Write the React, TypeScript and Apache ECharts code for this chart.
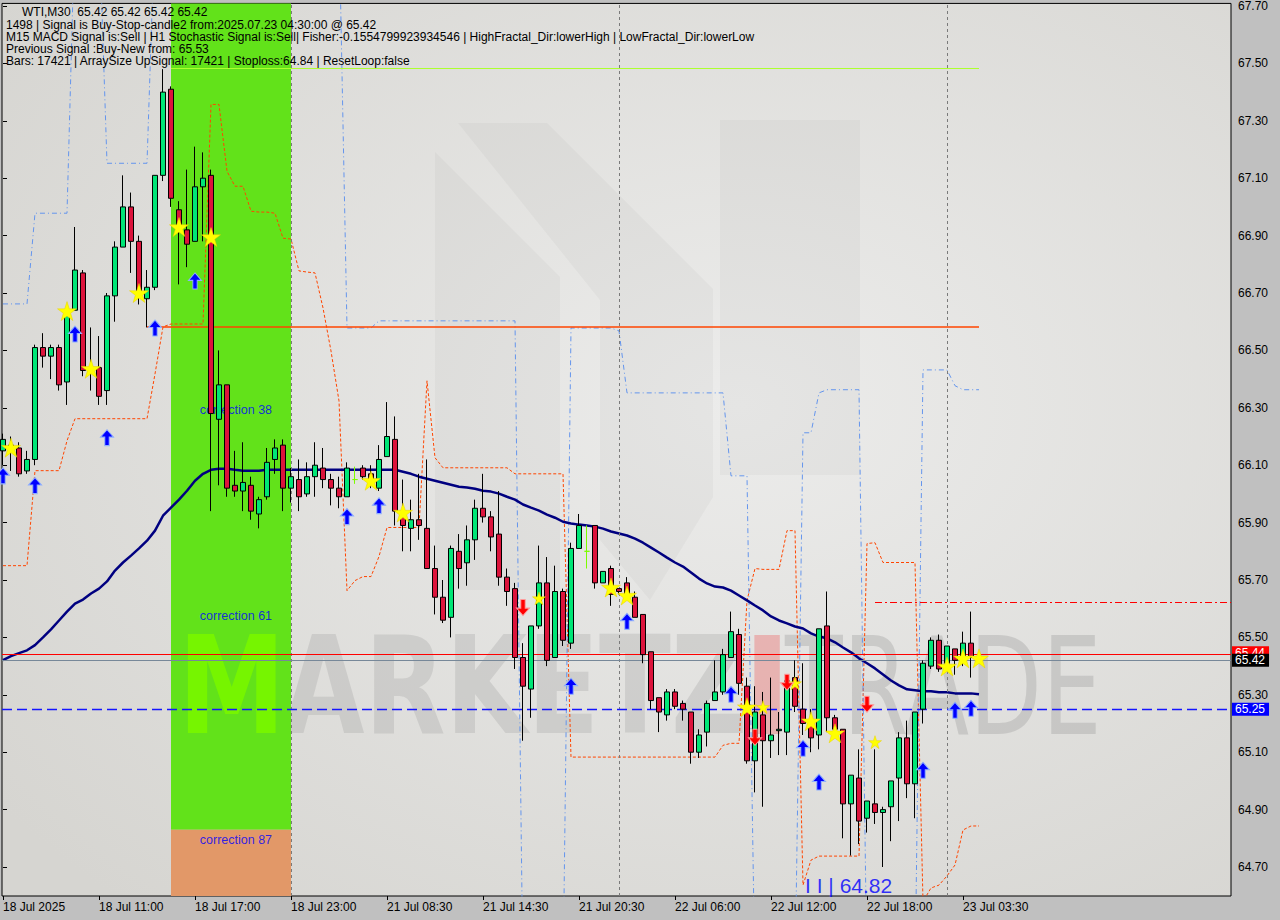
import React, { useEffect, useRef } from "react";
import * as echarts from "echarts";

const FONT = '"Liberation Sans", Arial, sans-serif';

const Y_MIN = 64.599;
const Y_MAX = 67.709;
const X_MIN = -0.125;
const X_MAX = 153.5;

// ---- candles (bar index = position) ----
const opens = [
  66.15, 66.17, 66.16, 66.08, 66.12, 66.51, 66.48, 66.51, 66.39, 66.64,
  66.77, 66.44, 66.44, 66.36, 66.69, 66.86, 67.0, 66.88, 66.68, 66.72,
  67.11, 67.41, 66.99, 66.92, 66.88, 67.07, 67.11, 66.26, 66.38, 66.03,
  66.01, 66.03, 65.93, 65.99, 66.12, 66.17, 66.02, 66.05, 66.0, 66.06,
  66.09, 66.05, 66.02, 65.99, 66.05, 66.09, 66.07, 66.02, 66.13, 66.19,
  65.92, 65.88, 65.91, 65.88, 65.74, 65.64, 65.57, 65.8, 65.76, 65.84,
  65.95, 65.92, 65.86, 65.71, 65.67, 65.43, 65.32, 65.54, 65.69, 65.43,
  65.66, 65.48, 65.81, 65.8, 65.89, 65.69, 65.74, 65.67, 65.69, 65.64,
  65.58, 65.45, 65.29, 65.23, 65.31, 65.27, 65.24, 65.1, 65.17, 65.28,
  65.31, 65.43, 65.51, 65.33, 65.07, 65.23, 65.14, 65.175, 65.17, 65.36,
  65.25, 65.21, 65.16, 65.54, 65.22, 65.18, 64.92, 65.01, 64.87, 64.92,
  64.89, 64.91, 65.01, 65.15, 64.99, 65.25, 65.4, 65.49, 65.41, 65.46,
  65.42, 65.48, 65.42,
];
const closes = [
  66.19, 66.16, 66.07, 66.12, 66.51, 66.48, 66.51, 66.38, 66.64, 66.78,
  66.43, 66.43, 66.34, 66.69, 66.86, 67.0, 66.88, 66.7, 66.72, 67.11,
  67.4, 67.03, 66.92, 66.87, 67.07, 67.1, 66.28, 66.38, 66.02, 66.01,
  66.04, 65.94, 65.98, 66.11, 66.16, 66.02, 66.06, 65.99, 66.06, 66.1,
  66.05, 66.02, 65.99, 66.09, 66.05, 66.06, 66.05, 66.12, 66.2, 65.94,
  65.89, 65.91, 65.89, 65.74, 65.64, 65.56, 65.81, 65.74, 65.84, 65.95,
  65.92, 65.85, 65.71, 65.66, 65.43, 65.33, 65.54, 65.69, 65.42, 65.66,
  65.49, 65.81, 65.89, 65.8, 65.69, 65.73, 65.65, 65.66, 65.64, 65.57,
  65.44, 65.28, 65.24, 65.31, 65.26, 65.25, 65.1, 65.16, 65.27, 65.31,
  65.44, 65.52, 65.34, 65.07, 65.24, 65.14, 65.16, 65.18, 65.35, 65.26,
  65.2, 65.15, 65.53, 65.22, 65.18, 64.92, 65.02, 64.86, 64.93, 64.89,
  64.9, 65.0, 65.15, 64.99, 65.24, 65.41, 65.49, 65.39, 65.47, 65.42,
  65.48, 65.43, 65.42,
];
const lows = [
  66.1, 66.08, 66.06, 66.07, 66.1, 66.44, 66.4, 66.36, 66.31, 66.64,
  66.41, 66.36, 66.31, 66.31, 66.6, 66.86, 66.77, 66.66, 66.58, 66.71,
  67.09, 67.0, 66.73, 66.79, 66.88, 66.88, 65.94, 66.03, 65.99, 65.99,
  65.94, 65.91, 65.88, 65.98, 66.07, 65.94, 65.97, 65.94, 65.99, 65.99,
  66.02, 65.96, 65.95, 65.99, 66.035, 66.05, 66.02, 66.01, 66.13, 65.89,
  65.8, 65.8, 65.84, 65.74, 65.58, 65.55, 65.5, 65.67, 65.68, 65.77,
  65.9, 65.8, 65.68, 65.61, 65.39, 65.14, 65.22, 65.53, 65.4, 65.43,
  65.47, 65.46, 65.81, 65.74, 65.67, 65.69, 65.61, 65.65, 65.64, 65.57,
  65.41, 65.25, 65.17, 65.21, 65.25, 65.21, 65.06, 65.08, 65.12, 65.28,
  65.3, 65.43, 65.3, 65.06, 64.96, 64.91, 65.08, 65.09, 65.09, 65.24,
  65.16, 65.1, 65.11, 65.17, 65.15, 64.8, 64.74, 64.78, 64.82, 64.85,
  64.7, 64.79, 64.86, 64.94, 64.87, 65.2, 65.39, 65.38, 65.41, 65.37,
  65.4, 65.36, 65.42,
];
const highs = [
  66.21, 66.2, 66.18, 66.15, 66.52, 66.56, 66.52, 66.52, 66.65, 66.93,
  66.78, 66.58, 66.55, 66.7, 66.88, 67.11, 67.05, 66.9, 66.78, 67.11,
  67.48, 67.42, 67.02, 67.13, 67.21, 67.19, 67.13, 66.5, 66.38, 66.15,
  66.18, 66.06, 65.99, 66.16, 66.19, 66.19, 66.09, 66.12, 66.11, 66.18,
  66.16, 66.07, 66.06, 66.11, 66.095, 66.1, 66.1, 66.17, 66.32, 66.27,
  66.05, 65.98, 66.07, 66.12, 65.82, 65.7, 65.82, 65.86, 65.89, 65.98,
  66.07, 65.94, 66.01, 65.74, 65.69, 65.48, 65.54, 65.82, 65.78, 65.75,
  65.67, 65.83, 65.93, 65.89, 65.89, 65.73, 65.75, 65.67, 65.71, 65.66,
  65.58, 65.45, 65.29, 65.32, 65.32, 65.28, 65.24, 65.18, 65.28, 65.42,
  65.46, 65.59, 65.53, 65.36, 65.33, 65.31, 65.36, 65.24, 65.36, 65.42,
  65.41, 65.25, 65.53, 65.66, 65.23, 65.18, 65.02, 65.11, 64.93, 65.11,
  64.91, 65.0, 65.17, 65.21, 65.24, 65.42, 65.5, 65.51, 65.47, 65.46,
  65.52, 65.59, 65.42,
];
const dojiBars = [44, 73, 122];

// ---- moving average ----
const maValues = [
  65.421, 65.435, 65.445, 65.455, 65.473, 65.5, 65.528, 65.559, 65.59, 65.618,
  65.632, 65.653, 65.67, 65.695, 65.733, 65.761, 65.785, 65.81, 65.837, 65.872,
  65.924, 65.952, 65.98, 66.011, 66.046, 66.07, 66.084, 66.088, 66.088, 66.084,
  66.081, 66.081, 66.081, 66.084, 66.084, 66.084, 66.084, 66.084, 66.084, 66.084,
  66.084, 66.084, 66.084, 66.084, 66.084, 66.084, 66.084, 66.084, 66.084, 66.084,
  66.077, 66.07, 66.06, 66.053, 66.046, 66.039, 66.032, 66.025, 66.022, 66.018,
  66.011, 66.008, 66.001, 65.99, 65.98, 65.963, 65.952, 65.942, 65.928, 65.917,
  65.903, 65.897, 65.893, 65.89, 65.886, 65.879, 65.869, 65.862, 65.855, 65.844,
  65.83, 65.813, 65.796, 65.778, 65.761, 65.747, 65.726, 65.705, 65.688, 65.677,
  65.674, 65.663, 65.646, 65.629, 65.611, 65.594, 65.573, 65.559, 65.549, 65.538,
  65.531, 65.514, 65.503, 65.497, 65.483, 65.465, 65.448, 65.427, 65.41, 65.392,
  65.371, 65.35, 65.333, 65.319, 65.316, 65.312, 65.312, 65.309, 65.309, 65.305,
  65.305, 65.305, 65.302,
];

// ---- trailing stop (orange dashed) ----
const stopLine = [
  65.75, 65.75, 65.75, 65.75, 66.081, 66.081, 66.081, 66.081, 66.185, 66.262,
  66.262, 66.262, 66.262, 66.262, 66.262, 66.262, 66.262, 66.262, 66.262, 66.418,
  66.582, 66.592, 66.592, 66.592, 66.592, 66.592, 67.357, 67.357, 67.124, 67.072,
  67.072, 66.985, 66.982, 66.982, 66.978, 66.891, 66.888, 66.777, 66.773, 66.77,
  66.648, 66.498, 66.324, 65.663, 65.698, 65.712, 65.712, 65.782, 65.883, 65.883,
  65.883, 65.883, 65.883, 66.394, 66.126, 66.091, 66.091, 66.091, 66.091, 66.091,
  66.091, 66.091, 66.091, 66.091, 66.07, 66.07, 66.07, 66.07, 66.07, 66.07,
  66.07, 65.083, 65.083, 65.083, 65.083, 65.083, 65.083, 65.083, 65.083, 65.083,
  65.083, 65.083, 65.083, 65.083, 65.083, 65.083, 65.083, 65.083, 65.083, 65.083,
  65.124, 65.131, 65.131, 65.629, 65.74, 65.737, 65.737, 65.737, 65.872, 65.872,
  64.637, 64.724, 64.738, 64.738, 64.738, 64.738, 64.738, 64.738, 65.827, 65.83,
  65.761, 65.761, 65.761, 65.761, 65.761, 64.58, 64.627, 64.637, 64.669, 64.707,
  64.829, 64.843, 64.843,
];

// ---- fractal channel (blue dash-dot) ----
const fractalLine = [
  66.662, 66.662, 66.662, 66.662, 66.978, 66.978, 66.978, 66.978, 66.978, 68.0,
  68.0, 68.0, 68.0, 67.152, 67.152, 67.152, 67.152, 67.152, 67.152, 68.0,
  68.0, 68.0, 68.0, 68.0, 68.0, 68.0, 68.0, 68.0, 68.0, 68.0,
  68.0, 68.0, 68.0, 68.0, 68.0, 68.0, 68.0, 68.0, 68.0, 68.0,
  68.0, 68.0, 68.0, 66.578, 66.578, 66.578, 66.578, 66.603, 66.603, 66.603,
  66.603, 66.603, 66.603, 66.603, 66.603, 66.603, 66.603, 66.603, 66.603, 66.603,
  66.603, 66.603, 66.603, 66.603, 66.603, 64.3, 64.3, 64.3, 64.3, 64.3,
  64.3, 66.578, 66.578, 66.578, 66.578, 66.578, 66.578, 66.568, 66.352, 66.352,
  66.352, 66.352, 66.352, 66.352, 66.352, 66.352, 66.352, 66.352, 66.352, 66.352,
  66.352, 66.063, 66.063, 66.063, 64.3, 64.3, 64.3, 64.3, 64.3, 64.3,
  66.213, 66.213, 66.352, 66.363, 66.363, 66.363, 66.363, 66.363, 64.3, 64.3,
  64.3, 64.3, 64.3, 64.3, 64.3, 66.432, 66.432, 66.432, 66.432, 66.377,
  66.363, 66.363, 66.363,
];

// ---- signal markers ----
const starBars = [1, 8, 11, 17, 22, 26, 46, 50, 76, 78, 93, 101, 104, 118, 120, 122];
const starPrices = [66.161, 66.637, 66.436, 66.7, 66.93, 66.895, 66.046, 65.935, 65.674, 65.646, 65.257, 65.208, 65.166, 65.399, 65.427, 65.427];
const smallStarBars = [67, 95, 99, 109];
const smallStarPrices = [65.636, 65.257, 65.34, 65.135];
const upArrowBars = [0, 4, 9, 13, 19, 24, 43, 47, 71, 78, 91, 100, 102, 115, 119, 121];
const upArrowPrices = [66.063, 66.029, 66.557, 66.196, 66.578, 66.742, 65.921, 65.959, 65.33, 65.556, 65.302, 65.114, 64.996, 65.037, 65.246, 65.253];
const downArrowBars = [65, 94, 98, 108];
const downArrowPrices = [65.604, 65.152, 65.344, 65.267];

// ---- axes ----
const priceTicks = [64.7, 64.9, 65.1, 65.3, 65.5, 65.7, 65.9, 66.1, 66.3, 66.5, 66.7, 66.9, 67.1, 67.3, 67.5, 67.7];
const timeTickBars = [0, 12, 24, 36, 48, 60, 72, 84, 96, 108, 120];
const timeTickLabels = [
  "18 Jul 2025", "18 Jul 11:00", "18 Jul 17:00", "18 Jul 23:00", "21 Jul 08:30",
  "21 Jul 14:30", "21 Jul 20:30", "22 Jul 06:00", "22 Jul 12:00", "22 Jul 18:00", "23 Jul 03:30",
];

// ---- levels / zones ----
const separatorBars = [36, 77, 118];
const askLevel = 65.441;
const lastPrice = 65.42;
const entryLevel = 65.252;
const resistanceLevel = 66.582;
const resistanceBars = [18, 122];
const topLevel = 67.483;
const topLevelBars = [21, 122];
const targetLevel = 65.622;
const targetStartBar = 109;
const zoneBars = [21, 36];
const zoneSplit = 64.83;
const correctionLabels = ["correction 38", "correction 61", "correction 87"];
const correctionPrices = [66.293, 65.573, 64.794];
const correctionBar = 24.6;
const lowLabel = "I I | 64.82";
const lowLabelBar = 100.25;
const lowLabelPrice = 64.637;

const infoLines = [
  "1498 | Signal is Buy-Stop-candle2 from:2025.07.23 04:30:00 @ 65.42",
  "M15 MACD Signal is:Sell | H1 Stochastic Signal is:Sell| Fisher:-0.1554799923934546 | HighFractal_Dir:lowerHigh | LowFractal_Dir:lowerLow",
  "Previous Signal :Buy-New from: 65.53",
  "Bars: 17421 | ArraySize UpSignal: 17421 | Stoploss:64.84 | ResetLoop:false",
];
const titleLine = "WTI,M30  65.42 65.42 65.42 65.42";

const STAR = "path://M50,0L61.8,35.3L98.9,35.3L68.9,57.1L80.3,92.4L50,70.6L19.7,92.4L31.1,57.1L1.1,35.3L38.2,35.3Z";
const UP = "path://M6,0L12,7L8,7L8,15L4,15L4,7L0,7Z";
const DOWN = "path://M4,0L8,0L8,8L12,8L6,15L0,8L4,8Z";

export default function App() {
  const ref = useRef<HTMLDivElement>(null);
  useEffect(() => {
    if (!ref.current) return;
    const chart = echarts.init(ref.current, null, { renderer: "svg" });

    const candleData = opens.map((o, i) => {
      const v = [i, o, closes[i], lows[i], highs[i]];
      if (dojiBars.includes(i)) {
        return { value: v, itemStyle: { borderColor: "#7cfc00", borderColor0: "#7cfc00", color: "#7cfc00", color0: "#7cfc00" } };
      }
      return v;
    });

    const logoPolys = [
      [[435, 152], [560, 277], [560, 590], [435, 590]],
      [[458, 123], [547, 123], [713, 289], [713, 497], [650, 600], [600, 540], [600, 300]],
      [[720, 120], [860, 120], [860, 475], [720, 475]],
    ];

    const graphics: any[] = [];
    logoPolys.forEach((pts) => {
      graphics.push({ type: "polygon", z: 1, silent: true, shape: { points: pts }, style: { fill: "rgba(120,120,120,0.06)" } });
    });
    graphics.push(
      { type: "text", z: 1, silent: true, x: 283, y: 687, scaleX: 0.78, style: { x: 0, y: 0, text: "ARKETZ", font: 'bold 135px "DejaVu Sans"', fill: "rgba(150,150,150,0.26)", verticalAlign: "middle" } },
      { type: "text", z: 1, silent: true, x: 742, y: 687, scaleX: 1.0, style: { x: 0, y: 0, text: "I", font: 'bold 135px "DejaVu Sans"', fill: "rgba(235,120,120,0.45)", verticalAlign: "middle" } },
      { type: "text", z: 1, silent: true, x: 785, y: 687, scaleX: 0.7, style: { x: 0, y: 0, text: "TRADE", font: '135px "DejaVu Sans"', fill: "rgba(150,150,150,0.32)", verticalAlign: "middle" } },
      { type: "text", z: 3, silent: true, x: 178, y: 687, scaleX: 0.8, style: { x: 0, y: 0, text: "M", font: 'bold 135px "DejaVu Sans"', fill: "#76f500", verticalAlign: "middle" } },
      { type: "text", z: 10, silent: true, x: 22, y: 12, style: { x: 0, y: 0, text: titleLine, font: `12px ${FONT}`, fill: "#000", verticalAlign: "middle" } }
    );
    infoLines.forEach((t, k) => {
      graphics.push({ type: "text", z: 10, silent: true, x: 6, y: 25 + 12 * k, style: { x: 0, y: 0, text: t, font: `12px ${FONT}`, fill: "#000", verticalAlign: "middle" } });
    });

    const priceBox = (txt: string, bg: string, fg: string, dy: number) => ({
      show: true, position: "end", distance: 1, formatter: txt, backgroundColor: bg, color: fg,
      padding: [1, 4, 0, 3], fontSize: 12, fontFamily: FONT, offset: [0, dy],
    });

    const option: any = {
      animation: false,
      backgroundColor: "#c0c0c0",
      grid: {
        left: 2, right: 49, top: 2, bottom: 24, show: true, z: 0,
        borderColor: "#000", borderWidth: 1,
        backgroundColor: new echarts.graphic.RadialGradient(0.6, 0.45, 0.75, [
          { offset: 0, color: "#ececeb" },
          { offset: 1, color: "#d6d5d1" },
        ]),
      },
      xAxis: {
        type: "value", min: X_MIN, max: X_MAX,
        axisLine: { show: false }, splitLine: { show: false },
        axisTick: { show: true, customValues: timeTickBars, length: 4, lineStyle: { color: "#000" } },
        axisLabel: {
          customValues: timeTickBars, align: "left", color: "#000", fontSize: 12, fontFamily: FONT, margin: 5,
          formatter: (v: number) => { const k = timeTickBars.indexOf(Math.round(v)); return k >= 0 ? timeTickLabels[k] : ""; },
        },
      },
      yAxis: {
        type: "value", position: "right", min: Y_MIN, max: Y_MAX,
        axisLine: { show: false }, splitLine: { show: false },
        axisTick: { show: true, customValues: priceTicks, length: 4, lineStyle: { color: "#000" } },
        axisLabel: { customValues: priceTicks, color: "#000", fontSize: 12, fontFamily: FONT, margin: 7, formatter: (v: number) => v.toFixed(2) },
      },
      graphic: { elements: graphics },
      series: [
        {
          type: "line", name: "zone", data: [], z: 2, silent: true,
          markArea: {
            silent: true,
            data: [
              [{ xAxis: zoneBars[0], yAxis: zoneSplit, itemStyle: { color: "#62e21a" } }, { xAxis: zoneBars[1], yAxis: Y_MAX }],
              [{ xAxis: zoneBars[0], yAxis: Y_MIN, itemStyle: { color: "#e29868" } }, { xAxis: zoneBars[1], yAxis: zoneSplit }],
            ],
          },
        },
        {
          type: "scatter", name: "corrections", z: 3, silent: true, symbolSize: 0,
          data: correctionPrices.map((p, k) => ({ value: [correctionBar, p], name: correctionLabels[k] })),
          label: { show: true, position: "right", distance: 0, formatter: "{b}", color: "#0000ff", fontSize: 12.5, fontFamily: FONT },
        },
        {
          type: "line", name: "levels", data: [], z: 4, silent: true,
          markLine: {
            silent: true, symbol: ["none", "none"], label: { show: false },
            data: [
              ...separatorBars.map((b) => ({ xAxis: b, lineStyle: { color: "#7a7a7a", type: [3, 3], width: 1 } })),
              [
                { coord: [topLevelBars[0], topLevel], lineStyle: { color: "#adff2f", width: 1, type: "solid" } },
                { coord: [topLevelBars[1], topLevel] },
              ],
              [
                { coord: [resistanceBars[0], resistanceLevel], lineStyle: { color: "#ff4500", width: 1.5, type: "solid" } },
                { coord: [resistanceBars[1], resistanceLevel] },
              ],
              [
                { coord: [targetStartBar, targetLevel], lineStyle: { color: "#ff0000", width: 1, type: [7, 3, 2, 3] } },
                { coord: [X_MAX, targetLevel] },
              ],
              { yAxis: entryLevel, lineStyle: { color: "#1414ff", width: 1.4, type: [10, 5] }, label: priceBox("65.25", "#0000ff", "#ffffff", 0) },
              { yAxis: askLevel, lineStyle: { color: "#ff0000", width: 1, type: "solid" }, label: priceBox("65.44", "#ff0000", "#ffffff", -2) },
              { yAxis: lastPrice, lineStyle: { color: "#778899", width: 1, type: "solid" }, label: priceBox("65.42", "#000000", "#ffffff", 0) },
            ],
          },
        },
        {
          type: "line", name: "stop", z: 4, silent: true, symbol: "none",
          data: stopLine.map((v, i) => [i, v]),
          lineStyle: { color: "#ff4500", width: 1, type: [3, 2] },
        },
        {
          type: "line", name: "fractal", z: 4, silent: true, symbol: "none",
          data: fractalLine.map((v, i) => [i, v]),
          lineStyle: { color: "#6495ed", width: 1, type: [5, 3, 1, 3] },
        },
        {
          type: "line", name: "ma", z: 4, silent: true, symbol: "none",
          data: maValues.map((v, i) => [i, v]),
          lineStyle: { color: "#000080", width: 2.5 },
        },
        {
          type: "candlestick", name: "WTI", z: 5, silent: true, barWidth: 5,
          encode: { x: 0, y: [1, 2, 3, 4] },
          data: candleData,
          itemStyle: { color: "#00e676", color0: "#dc143c", borderColor: "#000", borderColor0: "#000", borderWidth: 1 },
        },
        {
          type: "scatter", name: "stars", z: 6, silent: true, symbol: STAR, symbolSize: 19,
          data: starBars.map((b, k) => [b, starPrices[k]]),
          itemStyle: { color: "#ffff00", borderColor: "#e8d000", borderWidth: 0.5, opacity: 1 },
        },
        {
          type: "scatter", name: "smallStars", z: 6, silent: true, symbol: STAR, symbolSize: 13,
          data: smallStarBars.map((b, k) => [b, smallStarPrices[k]]),
          itemStyle: { color: "#ffff00", borderColor: "#e8d000", borderWidth: 0.5, opacity: 1 },
        },
        {
          type: "scatter", name: "up", z: 6, silent: true, symbol: UP, symbolSize: [13, 16],
          data: upArrowBars.map((b, k) => [b, upArrowPrices[k]]),
          itemStyle: { color: "#0000ff", borderColor: "#8fb0ff", borderWidth: 1, opacity: 1 },
        },
        {
          type: "scatter", name: "down", z: 6, silent: true, symbol: DOWN, symbolSize: [13, 16],
          data: downArrowBars.map((b, k) => [b, downArrowPrices[k]]),
          itemStyle: { color: "#ff0000", borderColor: "#ff9a9a", borderWidth: 1, opacity: 1 },
        },
        {
          type: "scatter", name: "lowLabel", z: 7, silent: true, symbolSize: 0,
          data: [{ value: [lowLabelBar, lowLabelPrice], name: lowLabel }],
          label: { show: true, position: "right", distance: 0, formatter: "{b}", color: "#0000ff", fontSize: 21, fontFamily: FONT },
        },
      ],
    };
    chart.setOption(option);
    return () => chart.dispose();
  }, []);

  return <div ref={ref} style={{ position: "fixed", left: 0, top: 0, width: 1280, height: 920 }} />;
}
